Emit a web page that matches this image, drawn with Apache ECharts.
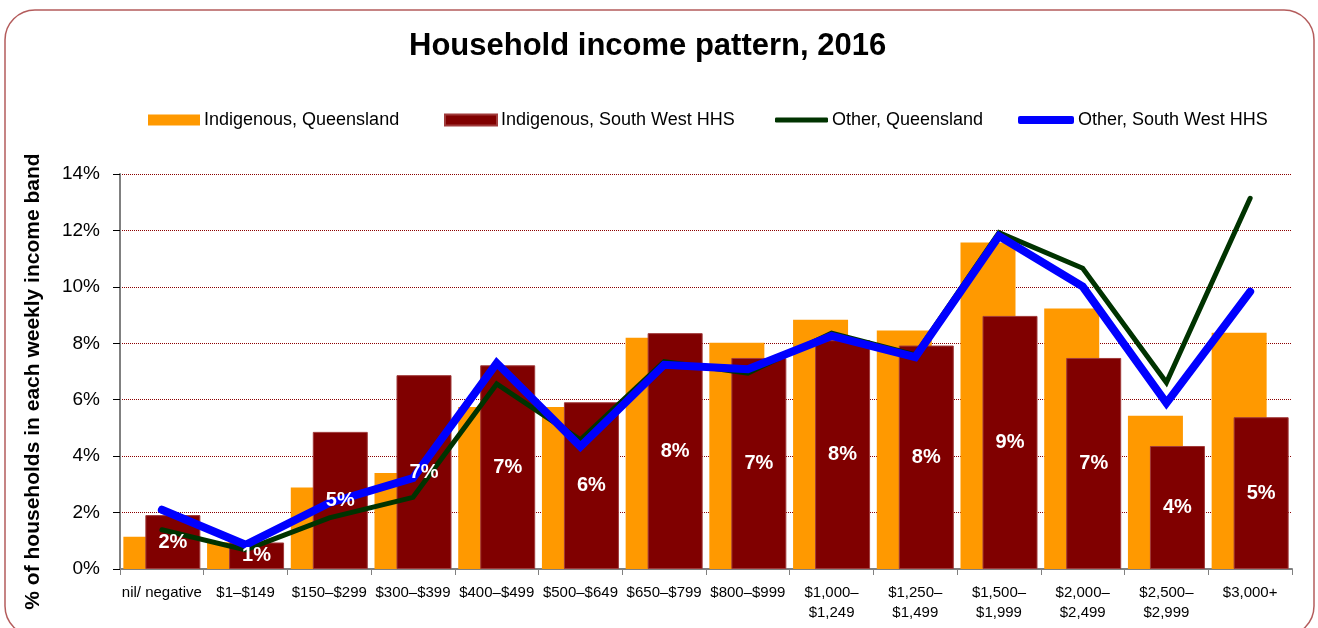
<!DOCTYPE html>
<html>
<head>
<meta charset="utf-8">
<script src="https://cdn.jsdelivr.net/npm/echarts@6/dist/echarts.min.js"></script>
<style>
  html, body { margin: 0; padding: 0; background: #fff; }
  #chart { width: 1318px; height: 628px; }
</style>
</head>
<body>
<div id="chart"></div>
<script>
// income bands
var bands = ["nil/ negative", "$1–$149", "$150–$299", "$300–$399", "$400–$499", "$500–$649",
  "$650–$799", "$800–$999", "$1,000–\n$1,249", "$1,250–\n$1,499", "$1,500–\n$1,999",
  "$2,000–\n$2,499", "$2,500–\n$2,999", "$3,000+"];

// % of households
var indigQld = [1.14, 0.95, 2.89, 3.40, 5.74, 5.74, 8.20, 8.02, 8.83, 8.45, 11.57, 9.23, 5.43, 8.37];
var indigSW = [1.91, 0.94, 4.86, 6.87, 7.22, 5.91, 8.36, 7.48, 8.11, 7.92, 8.97, 7.48, 4.36, 5.38];
var otherQld = [1.39, 0.68, 1.81, 2.54, 6.56, 4.58, 7.35, 6.94, 8.36, 7.59, 11.92, 10.66, 6.61, 13.14];
var otherSW = [2.10, 0.86, 2.34, 3.22, 7.30, 4.34, 7.24, 7.08, 8.26, 7.51, 11.80, 10.01, 5.88, 9.83];

var yTicks = [0, 2, 4, 6, 8, 10, 12, 14];

var font = "Liberation Sans";
var myChart = echarts.init(document.getElementById("chart"));

var legendBase = {
  top: 111,
  padding: 0,
  itemWidth: 52,
  selectedMode: false,
  textStyle: { fontFamily: font, fontSize: 18, color: "#000", padding: [0, 0, 0, -1] }
};

// bar label shown on the dark red bars
var pctLabel = {
  show: true,
  position: "inside",
  formatter: function (p) { return Math.round(p.value) + "%"; },
  fontFamily: font,
  fontSize: 20,
  fontWeight: "bold",
  color: "#fff"
};

var option = {
  backgroundColor: "#fff",
  animation: false,
  title: {
    text: "Household income pattern, 2016",
    left: 404,
    top: 26,
    textStyle: { fontFamily: font, fontSize: 31, fontWeight: "bold", color: "#000" }
  },
  graphic: [{
    type: "rect",
    shape: { x: 5, y: 10, width: 1309, height: 626, r: 30 },
    style: { fill: "none", stroke: "#b45c5c", lineWidth: 1.5 },
    silent: true
  }],
  legend: [
    Object.assign({}, legendBase, { left: 148, data: ["Indigenous, Queensland"], icon: "rect", itemHeight: 11 }),
    Object.assign({}, legendBase, { left: 444, data: ["Indigenous, South West HHS"], icon: "rect", itemHeight: 11 }),
    Object.assign({}, legendBase, { left: 775, data: ["Other, Queensland"], icon: "roundRect", itemHeight: 5, itemWidth: 53 }),
    Object.assign({}, legendBase, { left: 1018, data: ["Other, South West HHS"], icon: "roundRect", itemHeight: 8, itemWidth: 56 })
  ],
  grid: { left: 120, right: 26, top: 174, bottom: 59 },
  xAxis: [
    {
      type: "category",
      data: bands,
      axisLine: { lineStyle: { color: "#808080", width: 2 } },
      axisTick: { show: true, length: 6, lineStyle: { color: "#808080" } },
      axisLabel: { interval: 0, fontFamily: font, fontSize: 15, color: "#000", margin: 14, lineHeight: 20 }
    },
    // hidden twin axis, only used to put the bar labels above the lines
    { type: "category", data: bands, show: false }
  ],
  yAxis: {
    type: "value",
    min: yTicks[0],
    max: yTicks[yTicks.length - 1],
    interval: 2,
    name: "% of households in each weekly income band",
    nameLocation: "middle",
    nameGap: 76,
    nameTextStyle: { fontFamily: font, fontSize: 21, fontWeight: "bold", color: "#000", padding: [0, 20, 0, 0] },
    axisLine: { show: true, lineStyle: { color: "#808080", width: 2 } },
    axisTick: { show: true, length: 7, lineStyle: { color: "#000" } },
    axisLabel: { formatter: "{value}%", fontFamily: font, fontSize: 19, color: "#000", margin: 20 },
    splitLine: { lineStyle: { color: "#8b0000", type: "dotted", width: 1 } }
  },
  series: [
    {
      name: "Indigenous, Queensland",
      type: "bar",
      data: indigQld,
      barWidth: 55,
      barGap: "-60%",
      itemStyle: { color: "#ff9900" }
    },
    {
      name: "Indigenous, South West HHS",
      type: "bar",
      data: indigSW,
      barWidth: 55,
      barGap: "-60%",
      itemStyle: { color: "#800000", borderColor: "#a03a3a", borderWidth: 1 }
    },
    {
      name: "Other, Queensland",
      type: "line",
      data: otherQld,
      showSymbol: false,
      itemStyle: { color: "#003300" },
      lineStyle: { color: "#003300", width: 5, cap: "round", join: "miter" }
    },
    {
      name: "Other, South West HHS",
      type: "line",
      data: otherSW,
      showSymbol: false,
      itemStyle: { color: "#0000ff" },
      lineStyle: { color: "#0000ff", width: 8, cap: "round", join: "miter" }
    },
    // transparent copies of the bars, carrying the % labels on top
    {
      name: "qld-label",
      type: "bar",
      xAxisIndex: 1,
      data: indigQld,
      barWidth: 55,
      barGap: "-60%",
      silent: true,
      z: 10,
      itemStyle: { color: "transparent" }
    },
    {
      name: "sw-label",
      type: "bar",
      xAxisIndex: 1,
      data: indigSW,
      barWidth: 55,
      barGap: "-60%",
      silent: true,
      z: 10,
      itemStyle: { color: "transparent" },
      label: pctLabel
    }
  ]
};

myChart.setOption(option);
</script>
</body>
</html>
